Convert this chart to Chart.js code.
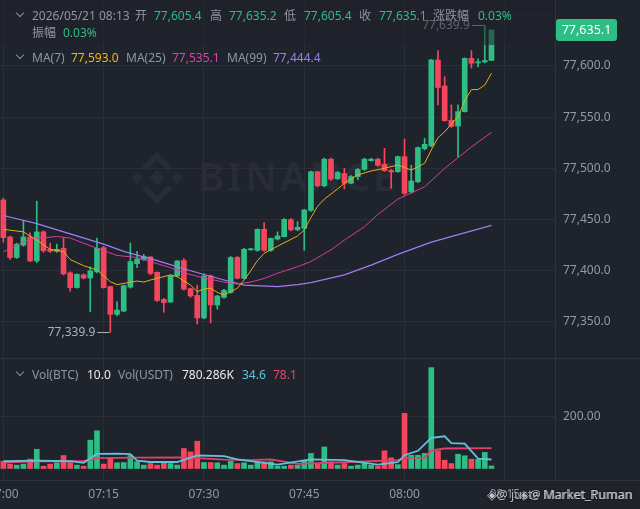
<!DOCTYPE html>
<html><head><meta charset="utf-8">
<script src="https://cdn.jsdelivr.net/npm/chart.js@4.4.1/dist/chart.umd.min.js"></script>
<style>
html,body{margin:0;padding:0;background:#1f232c;}
#wrap{position:relative;width:640px;height:509px;overflow:hidden;background:#1f232c;}
#c{position:absolute;left:0;top:0;}
.t{position:absolute;font-family:"Noto Sans","Noto Sans CJK SC",sans-serif;font-size:12px;white-space:nowrap;line-height:16px;}
.chev{position:absolute;width:5px;height:5px;border-right:1.3px solid #848e9c;border-bottom:1.3px solid #848e9c;transform:rotate(45deg);}
#dim{position:absolute;left:0;top:0;width:555px;height:45px;background:rgba(31,35,44,0.55);}
.wm{position:absolute;right:8px;top:486px;font-family:"Noto Sans",sans-serif;font-size:12.5px;color:#d5d8dd;text-shadow:0 0 2px #000;white-space:nowrap;}
</style></head>
<body><div id="wrap"><canvas id="c" width="640" height="509"></canvas><div id="dim"></div><div id="hdr"></div>
<div class="wm" style="opacity:0.85">◈@ juste Market_Ruman</div>
<div class="wm" style="opacity:0.75;right:7px">◈@ Market_Puman</div>
</div>
<script>
// ---------- DATA ----------
const opens = [77469.1,77433,77413,77425,77433,77409.6,77438,77421,77419,77422,77398,77383.6,77396,77393,77399,77422.6,77384.6,77357.5,77360.7,77384,77407,77411,77413.5,77398.5,77372,77369.5,77395,77410,77382.5,77376,77354,77395,77366.6,77374,77379,77413,77392.7,77420.5,77420,77440.5,77420,77431,77433.3,77450,77440,77441.5,77459,77496.8,77483,77509,77490,77495,77485.5,77492,77499,77507.6,77509,77504,77498,77496.8,77511.5,77477,77487,77519.3,77522,77605.9,77580.5,77547,77541.4,77555.4,77607.5,77603,77604,77605.4];
const highs = [77471,77434,77427,77448.6,77437,77468,77439,77427,77426,77432,77399,77397,77397,77404,77432,77424,77385,77370,77386,77427,77419,77416,77414,77399,77373,77396,77410,77412,77383,77386,77397,77396,77376,77382,77414,77414,77422,77422,77441,77447,77432,77438,77451,77451,77448,77460,77497.5,77497,77510,77510,77497,77500,77493,77500,77510,77510,77510,77519.6,77499,77512,77528.7,77503,77521,77529.4,77606.5,77615,77589.6,77562,77562,77608,77615,77607,77639.9,77635.2];
const lows = [77428,77411,77412,77424,77409,77408,77418,77418,77418,77396,77380,77383,77392,77360,77398,77383,77339.9,77356,77360,77383,77403,77410,77396,77370,77359.5,77369,77394,77381,77374,77348,77353,77349,77362.6,77373,77378,77392,77392,77420,77419,77419,77419,77430,77433,77439,77439,77420,77458,77482,77482,77488,77489,77480,77485,77489,77498,77507,77502,77497,77480.6,77496,77474,77476,77486,77518,77521,77562,77546,77540,77511.5,77555,77598,77599,77603,77605.4];
const closes = [77432.3,77413,77426,77433,77409.6,77438,77419.6,77419,77421,77397,77383.6,77396.6,77393,77400,77422,77383.6,77357.5,77361.7,77385.5,77409,77411.5,77414,77397.5,77371,77369,77395,77409.6,77382,77375.4,77354,77395,77366.6,77375.4,77381,77413,77392.7,77421,77421.5,77440.5,77420,77431.7,77434,77450.3,77440,77442.5,77459.4,77496.8,77483,77509,77489.6,77496,77485.5,77492,77499,77509,77509,77503,77497.8,77496.5,77511.5,77475.7,77487.7,77520.2,77523.5,77605.9,77579,77546.6,77541,77555.4,77607.5,77602.7,77604,77605.4,77635.1];
const vols = [28,17,13,17,36,74,9,17,22,50,22,13,9,109,145,17,41,22,23,50,26,13,19,13,26,19,13,77,64,105,23,23,22,13,28,19,22,13,26,26,26,9,9,13,13,32,58,19,83,26,13,19,9,13,19,13,9,68,41,15,212,51,51,58,388,68,32,19,55,49,36,35,62,10];
// moving averages: [candle index, value]
const ma7Pts = [[0,77440.5],[3,77438],[5,77430],[7,77421],[9,77418.7],[10,77411],[12,77405],[14,77400.8],[16,77389.4],[17,77386.5],[20,77390],[21,77389],[22,77391],[25,77396],[26,77394.3],[28,77386],[29,77379.6],[30,77382.2],[31,77382.9],[32,77379],[33,77376.4],[34,77379.6],[35,77383],[36,77391],[37,77400],[38,77410],[39,77417],[41,77424],[44,77434],[45,77440],[46,77452],[47,77463],[48,77470],[50,77480],[51,77485.5],[53,77493.6],[55,77497.5],[57,77500.1],[59,77503.3],[61,77498.4],[62,77501.5],[63,77505],[64,77518],[65,77530],[66,77535.8],[68,77550.5],[69,77566],[70,77577],[71,77577],[72,77581.4],[73,77593]];
const ma25Pts = [[0,77418.6],[4,77431],[8,77433.5],[10,77432],[14,77422],[17,77415],[20,77413],[22,77409],[25,77403],[27,77398],[30,77393],[33,77389],[35,77387],[37,77389],[39,77392.5],[41,77397.6],[44,77404],[46,77409],[49,77420.5],[51,77430],[54,77443],[56,77455],[59,77470],[63,77482],[66,77500],[70,77521],[73,77535.1]];
const ma99Pts = [[0,77454],[5,77446],[10,77436],[15,77426],[18,77419],[23,77410],[28,77400],[33,77391],[36,77386],[41,77384.5],[44,77386.5],[46,77388.4],[51,77396],[55,77405.5],[59,77416],[64,77428],[73,77444.4]];
const volMa5Pts = [[0,28],[5,30],[10,28],[12,22],[14,56],[17,57],[19,55],[20,30],[22,25],[26,25],[29,50],[33,48],[35,35],[37,28],[41,15],[46,35],[51,32],[56,15],[59,24],[60,51],[62,68],[64,118],[66,124],[67,98],[69,96],[71,38],[73,34.6]];
const volMa10Pts = [[0,23],[5,28],[12,28],[14,40],[20,42],[27,43],[29,40],[33,34],[37,32],[40,35],[44,18],[51,24],[59,32],[60,41],[63,42],[64,70],[66,77],[73,78.1]];
const priceTicks = [77350,77400,77450,77500,77550,77600];
const volTicks = [200];
const lastPrice = 77635.1;
// time labels 07:00 .. 08:22
const times = [];
for (let m = 0; m < 83; m++) { const t = 420 + m; times.push(String(Math.floor(t/60)).padStart(2,'0') + ':' + String(t%60).padStart(2,'0')); }

// ---------- HEADER ----------
const G = '#8f96a1', UP = '#2ebd85';
const hdr = [
  [16, [["2026/05/21 08:13",32,G],["开",135,G],["77,605.4",154,UP],["高",210,G],["77,635.2",229,UP],["低",284,G],["77,605.4",304,UP],["收",359,G],["77,635.1",379,UP],["涨跌幅",433,G],["0.03%",478,UP]]],
  [33, [["振幅",32,G],["0.03%",63,UP]]],
  [58, [["MA(7)",32,G],["77,593.0",71,"#f0b90b"],["MA(25)",126,G],["77,535.1",172,"#e040a8"],["MA(99)",227,G],["77,444.4",273,"#a07cf0"]]],
  [375,[["Vol(BTC)",32,G],["10.0",87,"#eaecef"],["Vol(USDT)",118,G],["780.286K",182,"#eaecef"],["34.6",242,"#5fc3dc"],["78.1",273,"#e8456e"]]]
];
const hd = document.getElementById('hdr');
hdr.forEach(([y, items], r) => {
  if (r !== 1) { const c = document.createElement('div'); c.className = 'chev'; c.style.left = '17px'; c.style.top = (y - 6) + 'px'; hd.appendChild(c); }
  items.forEach(([t, x, col]) => { const s = document.createElement('div'); s.className = 't'; s.textContent = t; s.style.left = x + 'px'; s.style.top = (y - 8) + 'px'; s.style.color = col; hd.appendChild(s); });
});

// ---------- CHART ----------
const GREEN = '#2ebd85', RED = '#f6465d', GRID = '#2a2e38', TICK = '#929aa5', SEP = '#2e333d';
const cols = opens.map((o, i) => closes[i] >= o ? GREEN : RED);
function sparse(pts) { const a = new Array(opens.length).fill(null); pts.forEach(([i, v]) => a[i] = v); return a; }
const fmt = v => v.toLocaleString('en-US', {minimumFractionDigits:1, maximumFractionDigits:1});
const font = {family:'Noto Sans', size:12};

const deco = {
  id:'deco',
  afterLayout(ch) {
    // volume axis shares the price axis column on the right
    const s = ch.scales.yv, p = ch.scales.y;
    s.left = p.left; s.right = p.right; s.width = p.width;
  },
  beforeDraw(ch) {
    const c = ch.ctx; c.save();
    c.fillStyle = 'rgba(255,255,255,0.045)';
    const cx = 157, cy = 178;
    const dia = (x, y, s) => { c.beginPath(); c.moveTo(x, y - s); c.lineTo(x + s, y); c.lineTo(x, y + s); c.lineTo(x - s, y); c.closePath(); c.fill(); };
    dia(cx, cy, 8); dia(cx - 20, cy, 6); dia(cx + 20, cy, 6);
    c.strokeStyle = 'rgba(255,255,255,0.045)'; c.lineWidth = 6; c.lineJoin = 'miter';
    c.beginPath(); c.moveTo(cx - 13, cy - 9); c.lineTo(cx, cy - 22); c.lineTo(cx + 13, cy - 9); c.stroke();
    c.beginPath(); c.moveTo(cx - 13, cy + 9); c.lineTo(cx, cy + 22); c.lineTo(cx + 13, cy + 9); c.stroke();
    c.font = '600 40px "Noto Sans"'; c.textBaseline = 'middle';
    try { c.letterSpacing = '3px'; } catch (e) {}
    c.fillText('BINANCE', 198, cy + 2);
    c.restore();
  },
  afterDraw(ch) {
    const c = ch.ctx, xs = ch.scales.x, ys = ch.scales.y; c.save();
    c.strokeStyle = SEP; c.lineWidth = 1;
    c.beginPath(); c.moveTo(0, 358.5); c.lineTo(640, 358.5); c.moveTo(0, 480.5); c.lineTo(640, 480.5); c.moveTo(555.5, 0); c.lineTo(555.5, 480); c.stroke();
    // high / low markers
    const hi = Math.max(...highs), hiI = highs.indexOf(hi), lo = Math.min(...lows), loI = lows.indexOf(lo);
    c.font = '12px "Noto Sans"'; c.fillStyle = '#aab1bb'; c.strokeStyle = '#aab1bb'; c.textBaseline = 'middle'; c.textAlign = 'right';
    [[hiI, hi], [loI, lo]].forEach(([i, v]) => {
      const x = xs.getPixelForValue(i), y = Math.round(ys.getPixelForValue(v)) + 0.5;
      c.beginPath(); c.moveTo(x - 13, y); c.lineTo(x - 1, y); c.stroke();
      c.fillText(fmt(v), x - 15, y);
    });
    // last price box
    const py = ys.getPixelForValue(lastPrice);
    c.fillStyle = GREEN; c.beginPath(); c.roundRect(556, py - 11, 61, 22, 3); c.fill();
    c.fillStyle = '#ffffff'; c.textAlign = 'center'; c.font = '12.5px "Noto Sans"'; c.fillText(fmt(lastPrice), 586.5, py + 0.5);
    c.restore();
  }
};

new Chart(document.getElementById('c'), {
  data: {
    labels: times,
    datasets: [
      {type:'line', data:sparse(ma7Pts), borderColor:'#e8ae10', borderWidth:1, pointRadius:0, spanGaps:true, yAxisID:'y', order:0},
      {type:'line', data:sparse(ma25Pts), borderColor:'#d83c9e', borderWidth:1, pointRadius:0, spanGaps:true, yAxisID:'y', order:0},
      {type:'line', data:sparse(ma99Pts), borderColor:'#a07cf0', borderWidth:1.2, pointRadius:0, spanGaps:true, yAxisID:'y', order:0},
      {type:'line', data:sparse(volMa5Pts), borderColor:'#5fc3dc', borderWidth:1.8, pointRadius:0, spanGaps:true, yAxisID:'yv', order:0},
      {type:'line', data:sparse(volMa10Pts), borderColor:'#e0406a', borderWidth:1.8, pointRadius:0, spanGaps:true, yAxisID:'yv', order:0},
      {type:'bar', data:opens.map((o, i) => [o, closes[i]]), backgroundColor:cols, barThickness:5, minBarLength:1, grouped:false, yAxisID:'y', order:1},
      {type:'bar', data:lows.map((l, i) => [l, highs[i]]), backgroundColor:cols, barThickness:1, grouped:false, yAxisID:'y', order:2},
      {type:'bar', data:vols, backgroundColor:cols, barThickness:5, grouped:false, yAxisID:'yv', order:3}
    ]
  },
  options: {
    responsive:false, animation:false, events:[],
    layout:{padding:0},
    plugins:{legend:{display:false}, tooltip:{enabled:false}},
    scales: {
      x: {type:'category', offset:true,
        grid:{offset:false, drawTicks:false, color:c => (c.index % 15 === 0) ? GRID : 'transparent'},
        border:{display:false},
        ticks:{autoSkip:false, maxRotation:0, minRotation:0, padding:7, color:TICK, font,
          callback:(v, i) => (i % 15 === 0) ? times[i] : ''},
        afterFit:s => { s.height = 29; s.paddingLeft = 0; s.paddingRight = 0; }},
      y: {position:'right', weight:0, min:77195.7, max:77664.45,
        grid:{drawTicks:false, color:GRID}, border:{display:false},
        afterBuildTicks:s => { s.ticks = priceTicks.concat([77650]).map(v => ({value:v})); },
        ticks:{padding:8, color:TICK, font, callback:v => (v <= 77620) ? fmt(v) : ''},
        afterFit:s => { s.width = 85; s.paddingTop = 0; s.paddingBottom = 0; }},
      yv: {position:'right', weight:2, min:-44.2, max:1801.8,
        grid:{drawTicks:false, color:GRID}, border:{display:false},
        afterBuildTicks:s => { s.ticks = volTicks.map(v => ({value:v})); },
        ticks:{padding:8, color:TICK, font, callback:v => Number(v).toFixed(2)},
        afterFit:s => { s.width = 0; s.paddingTop = 0; s.paddingBottom = 0; }}
    }
  },
  plugins:[deco]
});
</script></body></html>
